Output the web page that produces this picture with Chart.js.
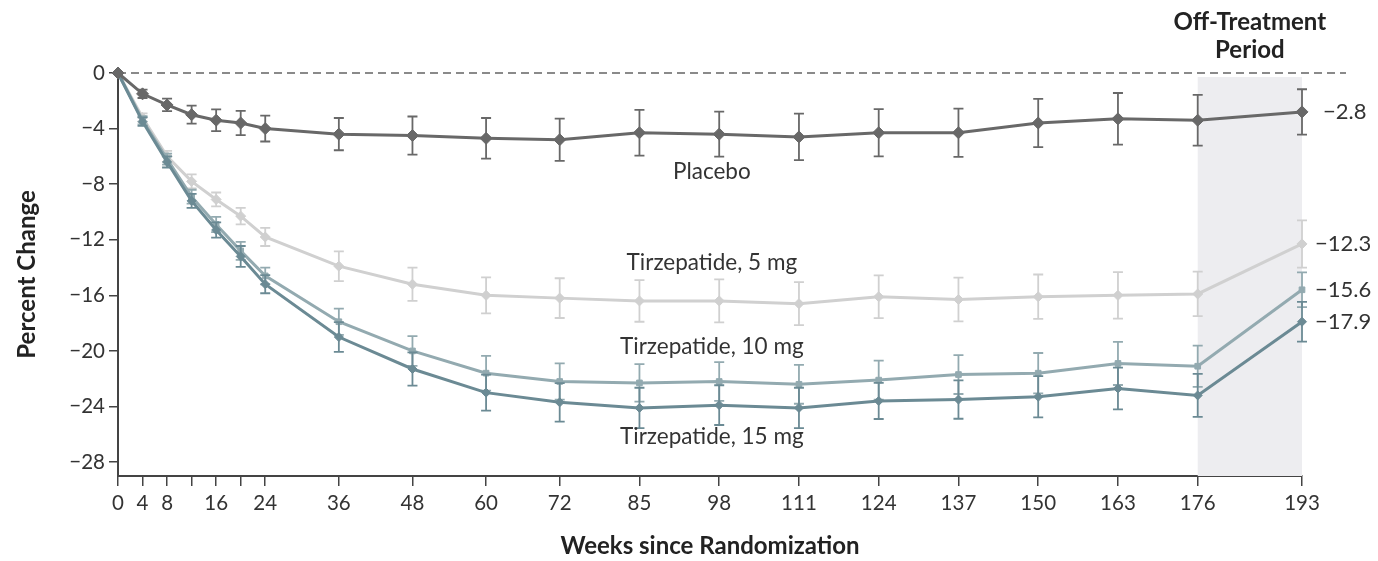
<!DOCTYPE html>
<html>
<head>
<meta charset="utf-8">
<script src="https://cdn.jsdelivr.net/npm/chart.js@4.4.1/dist/chart.umd.min.js"></script>
<style>
  html, body { margin: 0; padding: 0; background: #ffffff; }
  canvas { display: block; }
</style>
</head>
<body>
<canvas id="c" width="1378" height="561"></canvas>
<script>
// ---- Data ----
const weeks = [0, 4, 8, 12, 16, 20, 24, 36, 48, 60, 72, 85, 98, 111, 124, 137, 150, 163, 176, 193];
const xTickLabels = ['0', '4', '8', '', '16', '', '24', '36', '48', '60', '72', '85', '98', '111', '124', '137', '150', '163', '176', '193'];
const yTicks = [0, -4, -8, -12, -16, -20, -24, -28];

const placebo    = [0, -1.5, -2.3, -3.0, -3.4, -3.6, -4.0, -4.4, -4.5, -4.7, -4.8, -4.3, -4.4, -4.6, -4.3, -4.3, -3.6, -3.3, -3.4, -2.8];
const placeboErr = [0, 0.3, 0.45, 0.65, 0.78, 0.87, 0.93, 1.16, 1.37, 1.46, 1.52, 1.65, 1.62, 1.67, 1.7, 1.73, 1.74, 1.86, 1.83, 1.63];

const tirz5      = [0, -3.2, -6.0, -7.8, -9.1, -10.3, -11.8, -13.9, -15.2, -16.0, -16.2, -16.4, -16.4, -16.6, -16.1, -16.3, -16.1, -16.0, -15.9, -12.3];
const tirz5Err   = [0, 0.3, 0.4, 0.5, 0.5, 0.6, 0.65, 1.07, 1.2, 1.3, 1.43, 1.5, 1.55, 1.55, 1.54, 1.57, 1.6, 1.67, 1.6, 1.7];

const tirz10     = [0, -3.4, -6.2, -8.9, -10.9, -12.8, -14.6, -17.9, -20.0, -21.6, -22.2, -22.3, -22.2, -22.4, -22.1, -21.7, -21.6, -20.9, -21.1, -15.6];
const tirz10Err  = [0, 0.3, 0.4, 0.5, 0.55, 0.65, 0.6, 0.95, 1.07, 1.25, 1.3, 1.35, 1.4, 1.4, 1.4, 1.4, 1.45, 1.55, 1.48, 1.25];

const tirz15     = [0, -3.5, -6.4, -9.2, -11.3, -13.2, -15.2, -19.0, -21.3, -23.0, -23.7, -24.1, -23.9, -24.1, -23.6, -23.5, -23.3, -22.7, -23.2, -17.9];
const tirz15Err  = [0, 0.3, 0.4, 0.5, 0.55, 0.75, 0.65, 1.07, 1.2, 1.3, 1.38, 1.45, 1.43, 1.45, 1.3, 1.38, 1.48, 1.5, 1.55, 1.43];

const seriesNames = ['Placebo', 'Tirzepatide, 15 mg', 'Tirzepatide, 10 mg', 'Tirzepatide, 5 mg'];
const endLabels = ['\u22122.8', '\u221217.9', '\u221215.6', '\u221212.3'];

// ---- Styling ----
const FONT = 'Lato, "Open Sans", "DejaVu Sans", sans-serif';
Chart.defaults.font.family = FONT;
Chart.defaults.color = '#333333';

const colPlacebo = '#686868';
const col5 = '#d0d0d0';
const col10 = '#93aab0';
const col15 = '#6b8a94';

function toPts(vals) { return vals.map((v, i) => ({ x: weeks[i], y: v })); }

const errors = [placeboErr, tirz15Err, tirz10Err, tirz5Err];

const errorBarPlugin = {
  id: 'errorBars',
  beforeDatasetDraw(chart, args) {
    const i = args.index;
    const ds = chart.data.datasets[i];
    const err = errors[i];
    const xs = chart.scales.x, ys = chart.scales.y;
    const ctx = chart.ctx;
    ctx.save();
    ctx.strokeStyle = ds.borderColor;
    ctx.lineWidth = 1.8;
    for (let k = 0; k < weeks.length; k++) {
      const e = err[k];
      if (!e) continue;
      const px = xs.getPixelForValue(weeks[k]);
      const top = ys.getPixelForValue(ds.data[k].y + e);
      const bot = ys.getPixelForValue(ds.data[k].y - e);
      ctx.beginPath();
      ctx.moveTo(px, top); ctx.lineTo(px, bot);
      ctx.moveTo(px - 5, top); ctx.lineTo(px + 5, top);
      ctx.moveTo(px - 5, bot); ctx.lineTo(px + 5, bot);
      ctx.stroke();
    }
    ctx.restore();
  }
};

const decorPlugin = {
  id: 'decor',
  beforeDatasetsDraw(chart) {
    const { ctx, chartArea } = chart;
    const xs = chart.scales.x, ys = chart.scales.y;
    ctx.save();
    // Off-treatment shaded band
    const x0 = xs.getPixelForValue(176), x1 = xs.getPixelForValue(193);
    ctx.fillStyle = '#ededf0';
    ctx.fillRect(x0, ys.getPixelForValue(0) + 4, x1 - x0, chartArea.bottom - ys.getPixelForValue(0) - 4);
    // dashed zero line
    const y0 = ys.getPixelForValue(0);
    ctx.strokeStyle = '#8a8a8a';
    ctx.lineWidth = 1.8;
    ctx.setLineDash([8, 5]);
    ctx.beginPath();
    ctx.moveTo(chartArea.left, y0);
    ctx.lineTo(chartArea.right + 44, y0);
    ctx.stroke();
    ctx.restore();
  },
  afterDraw(chart) {
    const { ctx } = chart;
    const xs = chart.scales.x, ys = chart.scales.y;
    ctx.save();
    // Off-Treatment Period heading
    ctx.fillStyle = '#222222';
    ctx.font = 'bold 24px ' + FONT;
    ctx.textAlign = 'center';
    ctx.textBaseline = 'middle';
    const cx = (xs.getPixelForValue(176) + xs.getPixelForValue(193)) / 2;
    ctx.fillText('Off-Treatment', cx, 22);
    ctx.fillText('Period', cx, 50);

    // series labels inside plot
    ctx.font = '22.5px ' + FONT;
    ctx.fillStyle = '#333333';
    const labelPos = [
      { x: 96.8, y: -7.1 },
      { x: 96.8, y: -26.2 },
      { x: 96.8, y: -19.7 },
      { x: 96.8, y: -13.65 }
    ];
    seriesNames.forEach((n, i) => {
      ctx.fillText(n, xs.getPixelForValue(labelPos[i].x), ys.getPixelForValue(labelPos[i].y));
    });

    // end-value labels
    ctx.textAlign = 'left';
    ctx.font = '22px ' + FONT;
    const offs = [21, 13, 13, 13];
    chart.data.datasets.forEach((ds, i) => {
      const last = ds.data[ds.data.length - 1];
      ctx.fillText(endLabels[i], xs.getPixelForValue(last.x) + offs[i], ys.getPixelForValue(last.y));
    });
    ctx.restore();
  }
};

const mkDs = (label, vals, color, style, radius) => ({
  label,
  data: toPts(vals),
  borderColor: color,
  backgroundColor: color,
  pointBackgroundColor: color,
  pointBorderColor: color,
  borderWidth: 3,
  pointStyle: style,
  pointRadius: radius,
  pointBorderWidth: 1,
  tension: 0,
  clip: false
});

new Chart(document.getElementById('c'), {
  type: 'line',
  data: {
    datasets: [
      mkDs('Placebo', placebo, colPlacebo, 'rectRot', 6),
      mkDs('Tirzepatide, 15 mg', tirz15, col15, 'rectRot', 4.5),
      mkDs('Tirzepatide, 10 mg', tirz10, col10, 'rect', 4),
      mkDs('Tirzepatide, 5 mg', tirz5, col5, 'rectRot', 5)
    ]
  },
  options: {
    responsive: false,
    animation: false,
    layout: { padding: { left: 0, right: 76, top: 73, bottom: 0 } },
    plugins: { legend: { display: false }, tooltip: { enabled: false } },
    scales: {
      x: {
        type: 'linear',
        min: 0, max: 193,
        afterBuildTicks: (s) => { s.ticks = weeks.map(v => ({ value: v })); },
        afterFit: (s) => { s.height = 85; },
        ticks: {
          autoSkip: false, maxRotation: 0, padding: 5,
          color: '#333333',
          font: { size: 20.5 },
          callback: (v, i) => xTickLabels[i]
        },
        grid: { drawOnChartArea: false, drawTicks: true, tickLength: 10, color: '#444444', lineWidth: 1.5 },
        border: { display: true, color: '#444444', width: 2 },
        title: {
          display: true, text: 'Weeks since Randomization',
          color: '#222222', font: { size: 24, weight: 'bold' },
          padding: { top: 0, bottom: 0 }
        }
      },
      y: {
        type: 'linear',
        min: -29, max: 0,
        afterBuildTicks: (s) => { s.ticks = yTicks.map(v => ({ value: v })); },
        afterFit: (s) => { s.width = 118; },
        ticks: {
          padding: 4, color: '#333333', font: { size: 20.5 },
          callback: (v) => (v < 0 ? '\u2212' + Math.abs(v) : String(v))
        },
        grid: { drawOnChartArea: false, drawTicks: true, tickLength: 9, color: '#444444', lineWidth: 1.5 },
        border: { display: true, color: '#444444', width: 2 },
        title: {
          display: true, text: 'Percent Change',
          color: '#222222', font: { size: 24, weight: 'bold' },
          padding: { top: 13, bottom: 0 }
        }
      }
    }
  },
  plugins: [decorPlugin, errorBarPlugin]
});
</script>
</body>
</html>
